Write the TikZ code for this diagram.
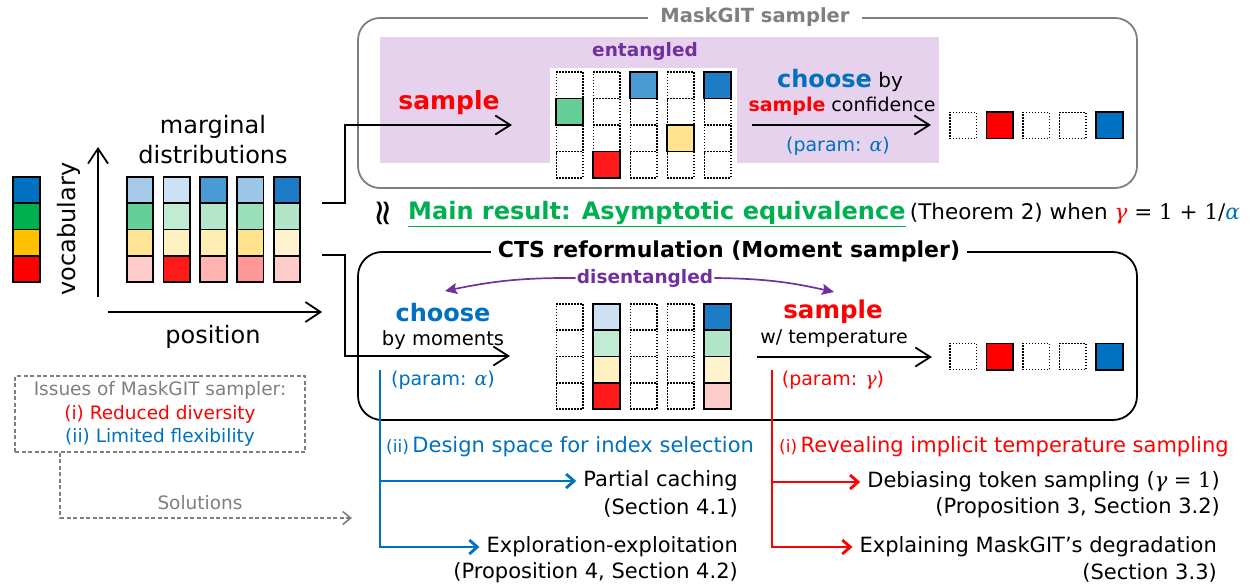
\documentclass[tikz,border=0pt]{standalone}
\usepackage{fontspec}
\setmainfont{DejaVu Sans}
\newfontfamily\mfont{DejaVu Serif}
\usetikzlibrary{arrows.meta,calc}

\newcommand\setfs[2]{\fontsize{#1}{#2}\selectfont}
\newcommand\gam{{\mfont\itshape γ}}
\newcommand\alp{{\mfont\itshape α}}

% text colours
\definecolor{cblue}{HTML}{0070C0}
\definecolor{cred}{HTML}{FF0000}
\definecolor{cgreen}{HTML}{00B050}
\definecolor{cgold}{HTML}{FFC000}
\definecolor{cpurple}{HTML}{7030A0}
\definecolor{cgray}{HTML}{7F7F7F}
\definecolor{cpurpbg}{HTML}{E7D2ED}
% marginal distributions: mc<column><row>, rows top to bottom = blue, green, yellow, red
\definecolor{mc11}{HTML}{A7CAE8}\definecolor{mc12}{HTML}{66CF98}\definecolor{mc13}{HTML}{FFE495}\definecolor{mc14}{HTML}{FFCCCC}
\definecolor{mc21}{HTML}{CCE1F3}\definecolor{mc22}{HTML}{C1EBD3}\definecolor{mc23}{HTML}{FFF0C1}\definecolor{mc24}{HTML}{FF1919}
\definecolor{mc31}{HTML}{4A9BD4}\definecolor{mc32}{HTML}{B3E6CA}\definecolor{mc33}{HTML}{FFEDB3}\definecolor{mc34}{HTML}{FFB3B3}
\definecolor{mc41}{HTML}{9DC7E7}\definecolor{mc42}{HTML}{9BDFBA}\definecolor{mc43}{HTML}{FFE38F}\definecolor{mc44}{HTML}{FF9999}
\definecolor{mc51}{HTML}{1C7DC6}\definecolor{mc52}{HTML}{B3E6C8}\definecolor{mc53}{HTML}{FFF3CF}\definecolor{mc54}{HTML}{FFCCCC}

\begin{document}
\begin{tikzpicture}[x=1pt,y=-1pt,
  cellS/.style={draw=black, line width=1.7pt, minimum width=26.5pt, minimum height=26.3pt, inner sep=0pt, outer sep=0pt},
  cellD/.style={draw=black, line width=1.5pt, dash pattern=on 1.5pt off 1.5pt, minimum width=26.5pt, minimum height=26.3pt, inner sep=0pt, outer sep=0pt},
  conn/.style={line width=1.8pt, -{Straight Barb[length=15pt,width=19pt]}},
  axisarrow/.style={line width=1.8pt, -{Straight Barb[length=15pt,width=20pt]}},
  purparrow/.style={draw=cpurple, line width=1.7pt, -{Stealth[length=12pt,width=11pt,inset=2pt]}},
  bluetree/.style={draw=cblue, line width=2.8pt, shorten >=5pt, -{Straight Barb[length=8pt,width=14pt]}},
  redtree/.style={draw=cred, line width=2.8pt, shorten >=5pt, -{Straight Barb[length=8pt,width=14pt]}},
  graydash/.style={draw=cgray, line width=1.6pt, dash pattern=on 4pt off 2.5pt, -{Straight Barb[length=8pt,width=13pt]}},
  leaf/.style={anchor=east, inner sep=2pt, font=\setfs{21}{25}},
  boxtitle/.style={fill=white, inner xsep=7pt, inner ysep=1pt, font=\bfseries\setfs{19.5}{23}},
  txt/.style={font=\setfs{19}{23}, inner sep=1pt},
  bigbold/.style={font=\bfseries\setfs{24}{28}, inner sep=1pt},
  purplab/.style={font=\bfseries\setfs{18.5}{22}, text=cpurple, inner sep=1pt}
]
\useasboundingbox (0,0) rectangle (1255,588);

% ---------- vocabulary legend ----------
\foreach \r/\c in {1/cblue,2/cgreen,3/cgold,4/cred}
  \node[cellS, fill=\c] (l\r) at (26.5, {190.1+(\r-1)*26.25}) {};
\node[rotate=90, font=\setfs{24}{28}] (voclab) at (69,229) {vocabulary};

% ---------- axes ----------
\coordinate (vy0) at (98,297);
\coordinate (vy1) at (98,147);
\coordinate (hx0) at (108,312);
\coordinate (hx1) at (322,312);
\draw[axisarrow] (vy0) -- (vy1);
\draw[axisarrow] (hx0) -- (hx1);
\node[font=\setfs{24}{30}, align=center] (mdlab) at (213,140) {marginal\\distributions};
\node[font=\setfs{24}{28}] (poslab) at (213,337) {position};

% ---------- marginal distributions ----------
\foreach \i in {1,...,5}
  \foreach \r in {1,...,4}
    \node[cellS, fill=mc\i\r] (m\i-\r) at ({140+(\i-1)*36.75}, {190.1+(\r-1)*26.25}) {};

% ---------- MaskGIT sampler ----------
\node[draw=cgray, line width=1.8pt, rounded corners=22pt, minimum width=779pt, minimum height=170pt] (topbox) at (747.5,103) {};
\node[fill=cpurpbg, minimum width=559pt, minimum height=126pt, inner sep=0pt] (purp) at (659,100) {};
\node[fill=white, minimum width=187pt, minimum height=95pt, inner sep=0pt] (gridbg) at (643.5,115.5) {};
\node[boxtitle, text=cgray, inner xsep=12pt] (toptitle) at (755,17) {MaskGIT sampler};
\node[purplab] (tent) at (645,51) {entangled};

\foreach \i in {1,...,5}
  \foreach \r in {1,...,4}
    \node[cellD] (t\i-\r) at ({569.5+(\i-1)*37}, {85.25+(\r-1)*26.5}) {};
\node[cellS, fill=mc12] (ts1) at (t1-2) {};
\node[cellS, fill=mc24] (ts2) at (t2-4) {};
\node[cellS, fill=mc31] (ts3) at (t3-1) {};
\node[cellS, fill=mc43] (ts4) at (t4-3) {};
\node[cellS, fill=mc51] (ts5) at (t5-1) {};

\node[bigbold, text=cred, font=\bfseries\setfs{25}{29}] (tsamp) at (449,103) {sample};
\node[txt, font=\setfs{20}{24}] (tchoose) at (840,80) {\textcolor{cblue}{\bfseries\setfs{24}{28}choose} by};
\node[txt] (tconf) at (842,106) {\textcolor{cred}{\bfseries sample} confidence};
\node[txt, text=cblue] (tparam) at (838,146) {(param: \alp)};

\foreach \i in {1,3,4}
  \node[cellD] (o\i) at ({963+(\i-1)*36.6}, 125.5) {};
\node[cellS, fill=cred] (o2) at (999.6,125.5) {};
\node[cellS, fill=cblue] (o5) at (1109.4,125.5) {};

% ---------- main result ----------
\node[rotate=90, font=\setfs{36}{36}, inner sep=1pt] (wr) at (386,213) {≈};
\node[anchor=west, inner xsep=1pt, font=\bfseries\setfs{24}{28}, text=cgreen] (mainres) at (407,214) {\underline{Main result: Asymptotic equivalence}};
\node[anchor=base west, inner xsep=3pt, font=\setfs{21.5}{25}] (thm) at (mainres.base east) {(Theorem 2) when {\mfont\textcolor{cred}{\itshape γ} = 1 + 1/\textcolor{cblue}{\itshape α}}};

% ---------- CTS reformulation ----------
\node[draw=black, line width=1.8pt, rounded corners=24pt, minimum width=779pt, minimum height=168pt] (botbox) at (747.5,336) {};
\node[boxtitle, font=\bfseries\setfs{22}{26}] (bottitle) at (729,251) {CTS reformulation (Moment sampler)};
\node[purplab] (bdis) at (645,278) {disentangled};
\coordinate (dl) at (445,291);
\coordinate (dr) at (834,292);
\draw[purparrow] (bdis.west) to[bend right=6] (dl);
\draw[purparrow] (bdis.east) to[bend left=6] (dr);

\node[bigbold, text=cblue] (bchoose) at (443,313) {choose};
\node[txt, font=\setfs{19.5}{23}] (bmom) at (443,340) {by moments};
\node[txt, text=cblue] (bparam) at (443,380) {(param: \alp)};
\node[bigbold, text=cred, font=\bfseries\setfs{24.5}{28}] (bsamp) at (833,312) {sample};
\node[txt] (btemp) at (834,339) {w/ temperature};
\node[txt, text=cred] (bgam) at (833,380) {(param: \gam)};

\foreach \i in {1,3,4}
  \foreach \r in {1,...,4}
    \node[cellD] (b\i-\r) at ({569.5+(\i-1)*37}, {317.1+(\r-1)*26.25}) {};
\foreach \i in {2,5}
  \foreach \r in {1,...,4}
    \node[cellS, fill=mc\i\r] (b\i-\r) at ({569.5+(\i-1)*37}, {317.1+(\r-1)*26.25}) {};

\foreach \i in {1,3,4}
  \node[cellD] (p\i) at ({963+(\i-1)*36.6}, 356.5) {};
\node[cellS, fill=cred] (p2) at (999.6,356.5) {};
\node[cellS, fill=cblue] (p5) at (1109.4,356.5) {};

% ---------- flow arrows ----------
\coordinate (ms1) at (322,203);
\coordinate (ms2) at (322,255);
\coordinate (ttip) at (512,125);
\coordinate (btip) at (510,356);
\draw[conn] (ms1) -- ++(23,0) |- (ttip);
\draw[conn] (ms2) -- ++(23,0) |- (btip);
\coordinate (ta0) at (752,125);
\coordinate (ta1) at (931,125);
\coordinate (ba0) at (757,357);
\coordinate (ba1) at (932,357);
\draw[conn] (ta0) -- (ta1);
\draw[conn] (ba0) -- (ba1);

% ---------- issues and solutions ----------
\node[draw=cgray, line width=1.5pt, dash pattern=on 4pt off 2.5pt, minimum width=290pt, minimum height=76pt, align=center, font=\setfs{18.5}{23.5}, text=cgray] (issues) at (160,414)
  {Issues of MaskGIT sampler:\\\textcolor{cred}{(i) Reduced diversity}\\\textcolor{cblue}{(ii) Limited flexibility}};
\coordinate (solend) at (352,518);
\draw[graydash] ([xshift=46pt]issues.south west) |- (solend);
\node[font=\setfs{18.5}{22}, text=cgray] (sollab) at (200,503) {Solutions};

% ---------- consequences ----------
\node[anchor=west, inner sep=1pt, font=\setfs{21}{25}, text=cblue] (dsp) at (385,447) {{\setfs{17}{20}(ii)}\,Design space for index selection};
\node[anchor=west, inner sep=1pt, font=\setfs{21}{25}, text=cred] (rev) at (778,447) {{\setfs{17}{20}(i)}\,Revealing implicit temperature sampling};

\node[leaf] (pc1) at (740,481) {Partial caching};
\node[leaf] (pc2) at (740,508) {(Section 4.1)};
\node[leaf] (ee1) at (740,547) {Exploration-exploitation};
\node[leaf] (ee2) at (740,573) {(Proposition 4, Section 4.2)};
\node[leaf] (db1) at (1222,482) {Debiasing token sampling ({\mfont\itshape γ} {\mfont = 1})};
\node[leaf] (db2) at (1222,508) {(Proposition 3, Section 3.2)};
\node[leaf] (ex1) at (1219,547) {Explaining MaskGIT’s degradation};
\node[leaf] (ex2) at (1219,573) {(Section 3.3)};

\coordinate (btop) at (380,370);
\coordinate (rtop) at (772,370);
\draw[bluetree] (btop) |- (pc1.west);
\draw[bluetree] (btop) |- (ee1.west);
\draw[redtree] (rtop) |- (db1.west);
\draw[redtree] (rtop) |- (ex1.west);
\end{tikzpicture}
\end{document}
